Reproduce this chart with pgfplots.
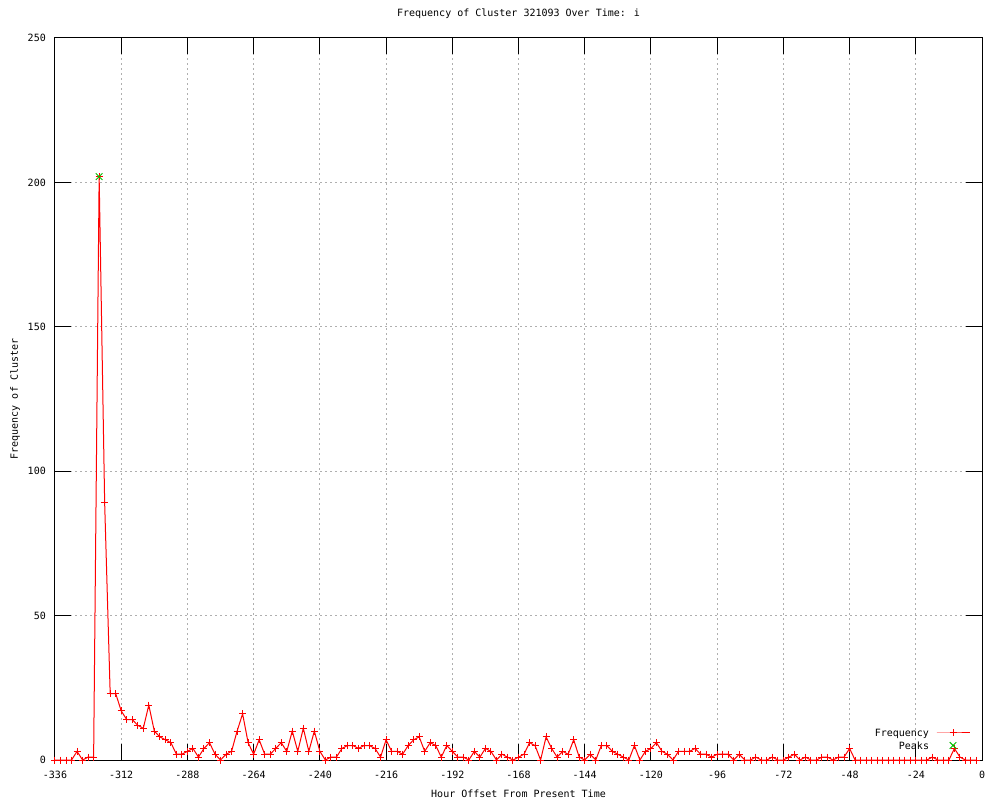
\documentclass[border=0pt]{standalone}
\usepackage{fontspec}
\setmainfont{DejaVu Sans Mono}
\usepackage{pgfplots}
\pgfplotsset{compat=1.18}
\usepackage{pgfplotstable}
\definecolor{gpred}{RGB}{255,0,0}
\definecolor{gpgreen}{RGB}{0,192,0}
\definecolor{gridgray}{RGB}{175,175,175}

\pgfplotstableread{
h f
-336 0
-334 0
-332 0
-330 0
-328 3
-326 0
-324 1
-322 1
-320 202
-318 89
-316 23
-314 23
-312 17
-310 14
-308 14
-306 12
-304 11
-302 19
-300 10
-298 8
-296 7
-294 6
-292 2
-290 2
-288 3
-286 4
-284 1
-282 4
-280 6
-278 2
-276 0
-274 2
-272 3
-270 10
-268 16
-266 6
-264 2
-262 7
-260 2
-258 2
-256 4
-254 6
-252 3
-250 10
-248 3
-246 11
-244 3
-242 10
-240 3
-238 0
-236 1
-234 1
-232 4
-230 5
-228 5
-226 4
-224 5
-222 5
-220 4
-218 1
-216 7
-214 3
-212 3
-210 2
-208 5
-206 7
-204 8
-202 3
-200 6
-198 5
-196 1
-194 5
-192 3
-190 1
-188 1
-186 0
-184 3
-182 1
-180 4
-178 3
-176 0
-174 2
-172 1
-170 0
-168 1
-166 2
-164 6
-162 5
-160 0
-158 8
-156 4
-154 1
-152 3
-150 2
-148 7
-146 1
-144 0
-142 2
-140 0
-138 5
-136 5
-134 3
-132 2
-130 1
-128 0
-126 5
-124 0
-122 3
-120 4
-118 6
-116 3
-114 2
-112 0
-110 3
-108 3
-106 3
-104 4
-102 2
-100 2
-98 1
-96 2
-94 2
-92 2
-90 0
-88 2
-86 0
-84 0
-82 1
-80 0
-78 0
-76 1
-74 0
-72 0
-70 1
-68 2
-66 0
-64 1
-62 0
-60 0
-58 1
-56 1
-54 0
-52 1
-50 1
-48 4
-46 0
-44 0
-42 0
-40 0
-38 0
-36 0
-34 0
-32 0
-30 0
-28 0
-26 0
-24 0
-22 0
-20 0
-18 1
-16 0
-14 0
-12 0
-10 4
-8 1
-6 0
-4 0
-2 0
}\freqdata

\pgfplotstableread{
h f
-320 202
}\peakdata

\begin{document}
\begin{tikzpicture}
\useasboundingbox (-55pt,-40pt) rectangle (945pt,760pt);
\begin{axis}[
  at={(0pt,0pt)}, anchor=south west,
  scale only axis, width=927pt, height=722pt,
  xmin=-336, xmax=0, ymin=0, ymax=250,
  xtick={-336,-312,...,0}, ytick={0,50,...,250},
  /pgf/number format/assume math mode=true,
  tick align=inside, major tick length=16pt,
  tick style={black, line width=1pt},
  axis line style={black, line width=1pt},
  grid=major,
  major grid style={gridgray, line width=1pt, dash pattern=on 2pt off 3pt},
  clip=false,
  xticklabel style={anchor=base, yshift=-18pt, inner sep=0pt},
  yticklabel style={anchor=east, xshift=-9pt, inner sep=0pt},
  title={Frequency of Cluster 321093 Over Time: i},
  title style={at={(axis description cs:0.5,1)}, anchor=base, yshift=15pt, inner sep=0pt},
  xlabel={Hour Offset From Present Time},
  xlabel style={at={(axis description cs:0.5,0)}, anchor=base, yshift=-37pt, inner sep=0pt},
  ylabel={Frequency of Cluster},
  ylabel style={at={(axis description cs:0,0.5)}, anchor=base, yshift=37pt, inner sep=0pt},
  legend style={draw=none, fill=none, at={(rel axis cs:0.98706,0.04245)}, anchor=north east,
    inner sep=0pt, outer sep=0pt, row sep=5pt, column sep=7pt,
    nodes={inner sep=0pt, text depth=0pt}},
  legend cell align=right,
  legend plot pos=right,
  legend image code/.code={\draw[mark repeat=2,mark phase=2,#1] plot coordinates {(0pt,0pt) (16.5pt,0pt) (33pt,0pt)};},
]
\addplot[gpred, line width=1pt, mark=+, mark size=3.5pt, mark options={solid, line width=1pt}] table[x=h, y=f] {\freqdata};
\addlegendentry{Frequency}
\addplot[gpgreen, only marks, mark=x, mark size=4.7pt, mark options={line width=1pt}] table[x=h, y=f] {\peakdata};
\addlegendentry{Peaks}
\end{axis}
\end{tikzpicture}
\end{document}
